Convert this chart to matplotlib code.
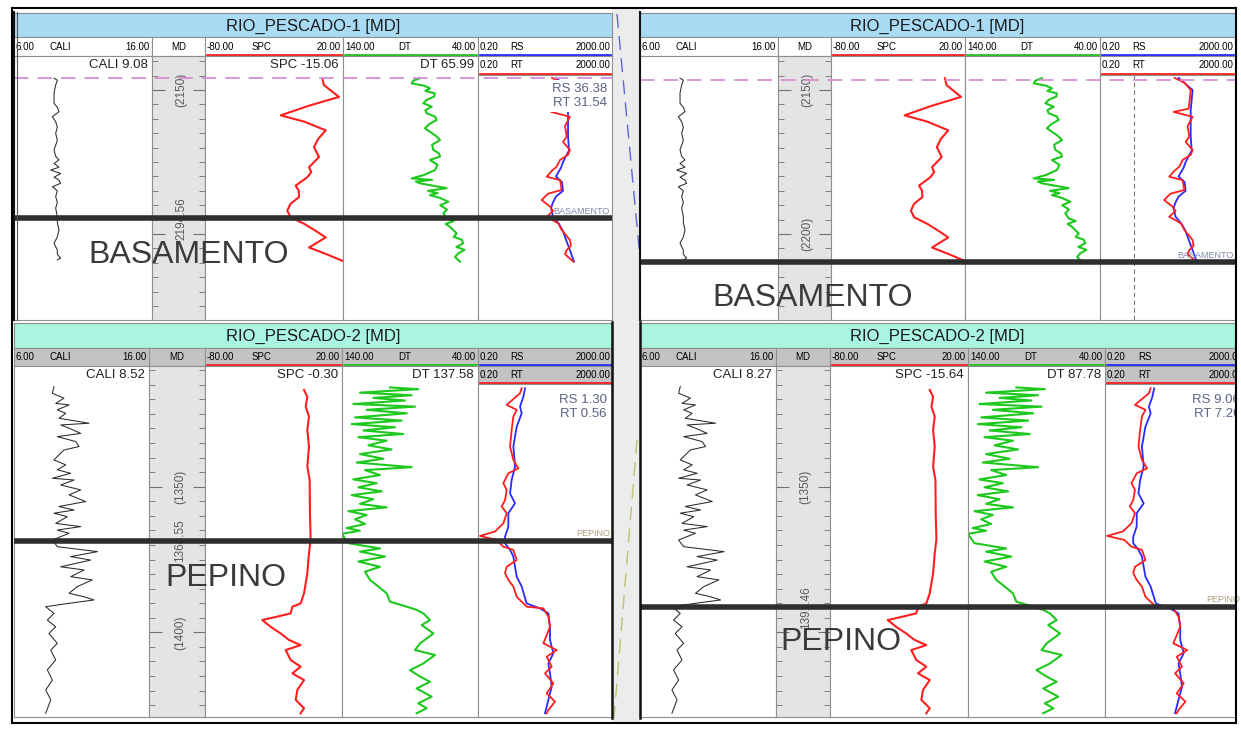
import numpy as np
import matplotlib.pyplot as plt
from matplotlib.lines import Line2D
from matplotlib.patches import Rectangle
from matplotlib.ticker import MultipleLocator

plt.rcParams['font.family'] = ['Liberation Sans', 'DejaVu Sans']

W, H = 1241, 730

# ---------------- RIO_PESCADO-1 logs (MD in m) ----------------
p1_cali_md = [2145.9, 2146.6, 2148.3, 2151.0, 2154.6, 2156.0, 2157.5, 2159.3, 2161.0, 2163.0,
              2165.0, 2167.5, 2170.8, 2173.0, 2174.3, 2175.5, 2176.8, 2177.8, 2179.0, 2180.3,
              2181.3, 2182.4, 2183.6, 2185.0, 2187.0, 2189.0, 2191.0, 2194.0, 2196.0, 2198.6,
              2201.0, 2203.2, 2205.6, 2207.0, 2208.4, 2209.0]
p1_cali = [8.90, 9.14, 9.02, 8.90, 8.90, 9.14, 9.26, 8.78, 9.02, 9.14,
           9.02, 9.14, 8.90, 9.02, 9.26, 8.90, 9.26, 8.66, 9.38, 8.90,
           9.26, 9.38, 8.78, 9.14, 9.02, 9.14, 9.02, 9.14, 9.14, 9.26,
           9.14, 8.90, 9.14, 9.14, 9.38, 9.14]

p1_spc_md = [2145.9, 2148.3, 2152.4, 2155.5, 2158.8, 2161.0, 2164.0, 2167.0, 2169.8, 2173.3,
             2176.8, 2178.5, 2180.3, 2183.2, 2185.0, 2187.2, 2189.5, 2191.9, 2194.2, 2196.5,
             2198.9, 2201.2, 2204.7, 2207.0, 2209.3]
p1_spc = [5.0, 6.2, 17.1, -5.0, -25.1, -8.0, 7.5, 2.0, -1.0, 2.6,
          -4.6, -3.0, -5.9, -14.3, -12.0, -11.9, -18.0, -20.4, -17.9, -8.0,
          0.2, 7.5, -4.6, 8.0, 19.5]

p1_dt_md = [2145.9, 2146.8, 2147.7, 2148.5, 2149.4, 2150.3, 2151.2, 2152.3, 2153.4, 2154.6,
            2155.8, 2157.0, 2158.1, 2159.2, 2160.4, 2161.8, 2163.3, 2164.5, 2166.0, 2167.4,
            2169.0, 2170.8, 2172.0, 2173.1, 2174.3, 2176.0, 2177.8, 2179.5, 2180.7, 2181.2,
            2181.8, 2182.4, 2183.0, 2183.5, 2184.1, 2185.0, 2185.8, 2186.5, 2187.5, 2188.8,
            2190.0, 2191.5, 2192.8, 2194.6, 2195.5, 2196.5, 2197.5, 2199.8, 2201.0, 2202.0,
            2203.2, 2204.5, 2205.5, 2206.7, 2208.0, 2209.6]
p1_dt = [83.0, 88.0, 89.1, 80.0, 75.6, 79.0, 71.9, 72.5, 78.0, 80.5,
         74.3, 79.0, 78.0, 72.0, 70.6, 76.0, 79.3, 75.6, 71.0, 68.1,
         74.0, 73.1, 69.0, 68.1, 75.6, 70.0, 71.9, 80.0, 89.1, 74.0,
         86.0, 83.0, 76.0, 70.0, 63.2, 77.0, 70.0, 75.6, 68.0, 62.0,
         68.0, 63.0, 65.7, 63.2, 58.0, 64.0, 60.7, 55.8, 58.0, 52.0,
         50.9, 56.0, 50.0, 54.6, 57.0, 53.3]

p1_rs_md = [2145.8, 2150.0, 2157.0, 2159.3, 2166.0, 2171.0, 2175.0, 2177.0, 2180.0, 2182.0,
            2185.0, 2187.0, 2189.0, 2191.0, 2194.0, 2196.5, 2199.0, 2202.0, 2205.6, 2209.6]
p1_rs = [42.6, 111, 97.3, 97.3, 97.3, 104, 68.9, 60.1, 42.6, 64.3,
         68.9, 42.6, 34.7, 30.2, 34.7, 52.4, 68.9, 84.7, 111, 147]

p1_rt_md = [2145.8, 2147.5, 2150.0, 2153.5, 2156.5, 2157.6, 2159.3, 2162.5, 2166.2, 2168.0,
            2170.8, 2172.5, 2174.3, 2176.6, 2178.0, 2180.1, 2181.3, 2184.7, 2186.0, 2188.2,
            2190.5, 2192.0, 2194.0, 2196.3, 2198.6, 2200.0, 2202.1, 2204.0, 2205.6, 2207.0,
            2209.6]
p1_rt = [32.4, 64.3, 97.3, 90.8, 84.7, 30.2, 111, 79.1, 88.9, 68.9,
         111, 97.3, 56.1, 44.7, 32.4, 22.5, 56.1, 63.1, 24.6, 15.9,
         28.2, 34.7, 22.5, 49.9, 63.1, 79.1, 111, 119, 88.9, 79.1,
         140]

# ---------------- RIO_PESCADO-2 logs (MD in m) ----------------
p2_cali_md = [1315.6, 1317.9, 1319.6, 1321.4, 1321.9, 1323.6, 1324.8, 1326.5, 1328.2, 1328.8,
              1329.9, 1331.7, 1332.8, 1334.5, 1336.2, 1337.4, 1340.8, 1342.5, 1344.2, 1345.4,
              1347.1, 1347.7, 1349.4, 1351.1, 1352.8, 1355.1, 1356.8, 1358.0, 1359.1, 1360.3,
              1362.6, 1363.7, 1364.9, 1366.0, 1368.3, 1370.6, 1372.3, 1374.0, 1375.2, 1377.5,
              1378.6, 1380.9, 1382.0, 1384.3, 1386.6, 1387.8, 1388.9, 1389.8, 1391.2, 1393.5,
              1395.8, 1398.1, 1400.4, 1403.8, 1406.1, 1409.5, 1412.9, 1416.4, 1419.8, 1423.2,
              1427.8]
p2_cali = [8.96, 8.84, 9.70, 9.09, 10.08, 9.21, 9.83, 9.33, 11.56, 9.46,
           10.08, 10.94, 9.21, 10.57, 10.82, 9.70, 8.96, 9.83, 9.21, 10.20,
           8.84, 10.45, 9.46, 10.94, 10.08, 11.31, 9.33, 10.45, 8.96, 9.95,
           9.09, 10.94, 9.21, 10.08, 8.84, 9.21, 12.18, 10.20, 11.68, 9.46,
           11.19, 10.20, 11.80, 10.69, 10.08, 11.19, 11.93, 10.45, 8.35, 8.96,
           8.47, 9.09, 8.59, 9.21, 8.72, 9.09, 8.47, 8.84, 8.35, 8.72,
           8.35]

p2_spc_md = [1316.8, 1319.1, 1322.5, 1325.9, 1330.5, 1336.2, 1343.1, 1347.7, 1359.1, 1368.1,
             1372.9, 1379.7, 1386.6, 1390.1, 1391.2, 1393.5, 1394.6, 1395.8, 1398.1, 1400.4,
             1402.6, 1404.4, 1406.1, 1409.5, 1411.8, 1414.1, 1416.4, 1419.8, 1423.2, 1426.1,
             1427.8]
p2_spc = [-7.7, -5.3, -6.5, -4.1, -5.3, -4.1, -5.3, -3.6, -3.4, -2.9,
          -4.1, -5.3, -7.7, -10.2, -16.2, -17.5, -27.2, -38.2, -32.1, -24.8,
          -18.8, -10.2, -21.1, -17.5, -10.2, -16.2, -7.7, -12.6, -13.8, -7.7,
          -10.2]

p2_dt_md = [1315.9, 1316.5, 1317.7, 1318.6, 1319.5, 1320.4, 1321.6, 1322.5, 1323.6, 1324.8,
            1326.2, 1327.3, 1328.5, 1329.6, 1330.7, 1331.9, 1333.0, 1334.2, 1335.8, 1337.2,
            1338.8, 1340.4, 1341.7, 1343.3, 1344.3, 1346.0, 1347.5, 1348.8, 1350.2, 1351.6,
            1352.9, 1354.3, 1355.9, 1357.1, 1358.4, 1359.7, 1361.2, 1362.8, 1364.2, 1365.1,
            1366.2, 1369.4, 1371.2, 1372.3, 1374.0, 1375.7, 1377.5, 1379.2, 1382.0, 1383.8,
            1386.6, 1389.5, 1391.2, 1392.3, 1393.5, 1395.8, 1397.5, 1400.4, 1403.8, 1406.1,
            1407.8, 1410.7, 1413.0, 1415.2, 1417.0, 1419.3, 1422.1, 1424.4, 1426.1, 1427.8]
p2_dt = [104.7, 83.9, 126.8, 88.8, 117.0, 93.7, 131.7, 86.3, 121.9, 92.4,
         130.4, 96.1, 132.9, 101.0, 124.3, 94.9, 128.0, 107.2, 120.6, 103.5,
         126.8, 109.6, 129.2, 88.8, 123.1, 112.1, 131.7, 114.5, 128.0, 110.8,
         132.9, 117.0, 126.8, 107.2, 135.3, 121.9, 130.4, 123.1, 136.6, 126.8,
         140.2, 135.3, 112.1, 126.8, 108.4, 128.0, 112.1, 123.1, 119.4, 114.5,
         107.2, 104.7, 92.4, 85.1, 80.2, 75.3, 81.4, 72.8, 82.6, 86.3,
         71.6, 80.2, 90.0, 82.6, 75.3, 85.1, 74.1, 83.9, 77.7, 85.1]

p2_rs_md = [1316.2, 1319.1, 1322.5, 1324.8, 1329.4, 1336.2, 1343.1, 1347.7, 1352.3, 1355.7,
            1359.1, 1363.7, 1367.2, 1369.4, 1371.7, 1374.0, 1377.5, 1380.9, 1384.3, 1390.1,
            1391.8, 1393.5, 1398.1, 1402.6, 1407.2, 1410.7, 1414.1, 1418.7, 1423.2, 1427.8]
p2_rs = [5.07, 4.52, 3.59, 4.03, 2.86, 2.27, 2.55, 2.02, 1.81, 2.55,
         1.61, 1.61, 1.28, 1.28, 1.81, 2.27, 2.55, 2.86, 4.03, 5.68,
         14.2, 25.2, 28.2, 28.2, 35.5, 25.2, 28.2, 31.7, 25.2, 20.0]

p2_rt_md = [1316.2, 1317.9, 1321.9, 1323.6, 1325.9, 1330.5, 1336.2, 1340.8, 1343.7, 1345.4,
            1348.8, 1351.1, 1354.6, 1356.8, 1359.1, 1362.6, 1365.4, 1366.9, 1368.3, 1370.6,
            1371.7, 1375.2, 1377.5, 1379.7, 1382.0, 1384.3, 1387.8, 1391.2, 1391.8, 1394.6,
            1398.1, 1403.8, 1406.1, 1408.4, 1411.8, 1414.1, 1417.5, 1421.0, 1423.8, 1426.7,
            1427.8]
p2_rt = [4.03, 3.59, 1.44, 2.86, 2.27, 2.02, 1.81, 2.27, 3.20, 1.61,
         1.14, 1.44, 1.28, 1.02, 1.44, 1.14, 0.64, 0.23, 0.72, 1.14,
         2.27, 2.86, 1.44, 1.28, 1.61, 2.27, 2.86, 5.68, 17.9, 25.2,
         28.2, 17.9, 44.7, 22.4, 31.7, 20.0, 35.5, 22.4, 39.8, 25.2,
         22.4]

wells = {
    'RIO_PESCADO-1': dict(cali=(p1_cali, p1_cali_md), spc=(p1_spc, p1_spc_md), dt=(p1_dt, p1_dt_md),
                          rs=(p1_rs, p1_rs_md), rt=(p1_rt, p1_rt_md)),
    'RIO_PESCADO-2': dict(cali=(p2_cali, p2_cali_md), spc=(p2_spc, p2_spc_md), dt=(p2_dt, p2_dt_md),
                          rs=(p2_rs, p2_rs_md), rt=(p2_rt, p2_rt_md)),
}

# track headers: name, left scale, right scale, underline colour, name offset
headers = [('CALI', '6.00', '16.00', None, 0.26),
           ('MD', '', '', None, 0.0),
           ('SPC', '-80.00', '20.00', '#ff2020', 0.34),
           ('DT', '140.00', '40.00', '#22c422', 0.41),
           ('RS', '0.20', '2000.00', '#2a2aff', 0.24)]

# depth scale of each row: pixel row of a reference depth, pixels per metre
rows = {'top': (90.0, 2150.0, 2.88), 'bottom': (486.7, 1350.0, 2.912)}

fig = plt.figure(figsize=(W / 100, H / 100), dpi=100)


def frac(x0, y0, x1, y1):
    return [x0 / W, 1 - y1 / H, (x1 - x0) / W, (y1 - y0) / H]


def fig_line(xs, ys, **kw):
    fig.add_artist(Line2D([x / W for x in xs], [1 - y / H for y in ys], **kw))


def fig_text(x, y, s, **kw):
    fig.text(x / W, 1 - y / H, s, **kw)


def depth_at(row, y):
    y0, d0, ppm = rows[row]
    return d0 + (y - y0) / ppm


def plain(ax, edge='#8f8f8f'):
    ax.set_xticks([])
    ax.set_yticks([])
    for s in ax.spines.values():
        s.set_color(edge)
        s.set_linewidth(0.8)


def draw_panel(p):
    well = wells[p['well']]
    e = p['edges']
    x0, x1 = e[0], e[-1]
    yt, y1, y2, y3, yb = p['y_title'], p['y_row1'], p['y_row2'], p['y_rt'], p['y_bot']
    row = p['row']

    # title bar
    ax = fig.add_axes(frac(x0, yt, x1, y1))
    ax.set_facecolor(p['title_bg'])
    plain(ax, '#8a8a8a')
    ax.text(0.5, 0.45, p['well'] + ' [MD]', ha='center', va='center', fontsize=12, color='#1a1a1a')

    # header row 1 and the RT header in row 2
    for i, (name, lo, hi, col, off) in enumerate(headers):
        a, b = e[i], e[i + 1]
        full = p['res_full'] if name == 'RS' else b
        specs = [(y1, y2, name, lo, hi, col, p['head_bg'])]
        if name == 'RS':
            specs.append((y2, y3, 'RT', lo, hi, '#ff2020', p['rt_bg']))
        for ya, yb_, nm, l, h, c, bg in specs:
            hax = fig.add_axes(frac(a, ya, b, yb_))
            hax.set_facecolor(bg)
            plain(hax)
            w = b - a
            if nm == 'MD':
                hax.text(0.5, 0.5, nm, ha='center', va='center', fontsize=7)
                continue
            hax.text(2 / w, 0.5, l, ha='left', va='center', fontsize=7, clip_on=True)
            hax.text((full - a) * off / w, 0.5, nm, ha='left', va='center', fontsize=7, clip_on=True)
            hax.text((full - a - 2) / w, 0.5, h, ha='right', va='center', fontsize=7, clip_on=True)
            if c is not None:
                hax.axhline(0.07, xmin=2 / w, xmax=(full - a - 2) / w, color=c, lw=2)

    # data tracks
    axes = []
    for i, (name, lo, hi, col, off) in enumerate(headers):
        top = y3 if name == 'RS' else y2
        tax = fig.add_axes(frac(e[i], top, e[i + 1], yb))
        plain(tax)
        tax.set_ylim(depth_at(row, yb), depth_at(row, top))
        axes.append(tax)

    cax, mdax, sax, dax, rax = axes
    cax.set_xlim(6, 16)
    cax.plot(*well['cali'], color='#2a2a2a', lw=0.75)
    sax.set_xlim(-80, 20)
    sax.plot(*well['spc'], color='#ff1e1e', lw=1.5)
    dax.set_xlim(140, 40)
    dax.plot(*well['dt'], color='#1ec81e', lw=1.5)
    rax.set_xscale('log')
    decades = 4 * (e[5] - e[4]) / (p['res_full'] - e[4])
    rax.set_xlim(0.2, 0.2 * 10 ** decades)
    rax.set_xticks([])
    rax.minorticks_off()
    rax.plot(*well['rs'], color='#2a2aff', lw=1.3)
    rax.plot(*well['rt'], color='#ff1e1e', lw=1.3)
    if p['grid']:
        rax.axvline(2.0, color='#777777', lw=0.8, ls=(0, (4, 3)))

    # MD track
    mdax.set_facecolor('#e4e4e4')
    mdax.yaxis.set_major_locator(MultipleLocator(50))
    mdax.yaxis.set_minor_locator(MultipleLocator(5))
    mdax.tick_params(axis='y', which='both', direction='in', left=True, right=True,
                     labelleft=False, color='#707070')
    mdax.tick_params(axis='y', which='major', length=9)
    mdax.tick_params(axis='y', which='minor', length=4)
    for d, s in p['md_labels']:
        mdax.text(0.55, d, s, transform=mdax.get_yaxis_transform(), rotation=90,
                  ha='center', va='center', fontsize=8.5, color='#5a5a5a')

    # row 2 readouts
    if p['readouts']:
        r = p['readouts']
        yc = (y2 + y3) / 2
        fig_text(e[1] - 4, yc, r[0], ha='right', va='center', fontsize=9.5, color='#222222')
        fig_text(e[3] - 4, yc, r[1], ha='right', va='center', fontsize=9.5, color='#222222')
        fig_text(e[4] - 4, yc, r[2], ha='right', va='center', fontsize=9.5, color='#222222')
        w = e[5] - e[4]
        box = dict(facecolor='white', edgecolor='none', pad=2) if p['cover'] else None
        rax.text((p['res_full'] - e[4] - 5) / w, 1 - (p['res_y'] - y3) / (yb - y3), r[3],
                 transform=rax.transAxes, ha='right', va='center', fontsize=9.5,
                 color='#5b6385', linespacing=1.2, clip_on=True, bbox=box, zorder=5)

    # formation top and cursor line
    ov = fig.add_axes(frac(x0, y2, x1, yb))
    ov.set_ylim(depth_at(row, yb), depth_at(row, y2))
    ov.set_xlim(0, 1)
    ov.axis('off')
    ov.set_zorder(1)
    ov.axhline(p['marker'], color='#2e2e2e', lw=4)
    if p['pink'] is not None:
        ov.axhline(p['pink'], color='#d78fd7', lw=1.3, ls=(0, (8, 5)))

    bx, by = p['big']
    fig_text(bx, by, p['marker_name'], fontsize=23, color='#3a3a3a', ha='left', va='center', zorder=6)
    sx, sy = p['small']
    fig_text(sx, sy, p['marker_name'], fontsize=6.5, color=p['small_color'], ha='right',
             va='center', zorder=6)


panels = [
    dict(well='RIO_PESCADO-1', edges=[14, 152, 205, 343, 478, 612], res_full=612,
         y_title=13, y_row1=37, y_row2=56, y_rt=75, y_bot=320, row='top',
         title_bg='#a9dcf4', head_bg='white', rt_bg='white',
         marker=2194.56, marker_name='BASAMENTO',
         md_labels=[(2150, '(2150)'), (2194.56, '2194.56')],
         readouts=['CALI 9.08', 'SPC -15.06', 'DT 65.99', 'RS 36.38\nRT 31.54'], res_y=96,
         cover=True, big=(88, 255), small=(610, 212), small_color='#7f8cb0',
         pink=2145.8, grid=False),
    dict(well='RIO_PESCADO-1', edges=[640, 778, 831, 965, 1100, 1235], res_full=1235,
         y_title=13, y_row1=37, y_row2=56, y_rt=75, y_bot=320, row='top',
         title_bg='#a9dcf4', head_bg='white', rt_bg='white',
         marker=2209.7, marker_name='BASAMENTO',
         md_labels=[(2150, '(2150)'), (2200, '(2200)')],
         readouts=None, res_y=96, cover=False, big=(712, 298), small=(1233, 256),
         small_color='#7f8cb0', pink=2146.4, grid=True),
    dict(well='RIO_PESCADO-2', edges=[14, 149, 205, 342, 478, 612], res_full=612,
         y_title=323, y_row1=348, y_row2=366, y_rt=384, y_bot=717, row='bottom',
         title_bg='#aaf5df', head_bg='#c3c3c3', rt_bg='#c3c3c3',
         marker=1368.55, marker_name='PEPINO',
         md_labels=[(1350, '(1350)'), (1368.55, '1368.55'), (1400, '(1400)')],
         readouts=['CALI 8.52', 'SPC -0.30', 'DT 137.58', 'RS 1.30\nRT 0.56'], res_y=407,
         cover=False, big=(165, 578), small=(610, 534), small_color='#a8a07a',
         pink=None, grid=False),
    dict(well='RIO_PESCADO-2', edges=[640, 776, 830, 968, 1105, 1235], res_full=1245,
         y_title=323, y_row1=348, y_row2=366, y_rt=384, y_bot=717, row='bottom',
         title_bg='#aaf5df', head_bg='#c3c3c3', rt_bg='#c3c3c3',
         marker=1391.46, marker_name='PEPINO',
         md_labels=[(1350, '(1350)'), (1391.46, '1391.46')],
         readouts=['CALI 8.27', 'SPC -15.64', 'DT 87.78', 'RS 9.06\nRT 7.26'], res_y=407,
         cover=False, big=(780, 642), small=(1240, 600), small_color='#a8a07a',
         pink=None, grid=False),
]

# background gap between the two correlation columns
fig.patches.append(Rectangle((612 / W, 1 - 723 / H), 28 / W, 715 / H, transform=fig.transFigure,
                             facecolor='#ececec', edgecolor='none', zorder=-1))

for p in panels:
    draw_panel(p)

# correlation lines in the gap
fig_line([617, 640], [14, 258], color='#5a6ad6', lw=1, ls=(0, (10, 6)), zorder=4)
fig_line([637, 614], [440, 718], color='#c0c070', lw=1, ls=(0, (10, 6)), zorder=4)

# panel borders
fig_line([14, 14], [12, 320], color='#111111', lw=1.5, zorder=7)
fig_line([17, 17], [12, 320], color='#555555', lw=0.8, zorder=7)
fig_line([640, 640], [12, 320], color='#111111', lw=1.5, zorder=7)
fig_line([640, 640], [322, 718], color='#111111', lw=1.8, zorder=7)
fig_line([612, 612], [322, 718], color='#111111', lw=1.8, zorder=7)

# outer frame
fig.patches.append(Rectangle((12 / W, 1 - 723 / H), 1224 / W, 715 / H, transform=fig.transFigure,
                             fill=False, edgecolor='black', lw=1.5, zorder=8))

fig.savefig('out.png', dpi=100)
